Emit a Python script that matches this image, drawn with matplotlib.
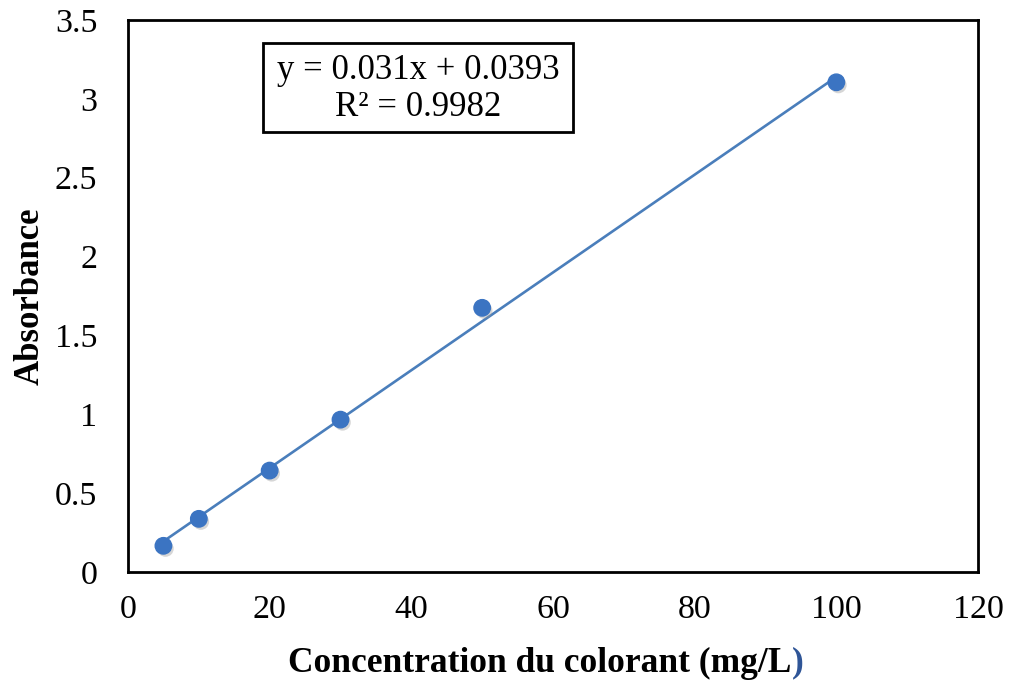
import matplotlib
matplotlib.use("Agg")
import matplotlib.pyplot as plt
import matplotlib.patheffects as pe
from matplotlib.patches import Rectangle
import numpy as np

# Data
concentration = [5, 10, 20, 30, 50, 100]
absorbance = [0.166, 0.337, 0.643, 0.966, 1.675, 3.105]
slope = 0.031
intercept = 0.0393
equation_text = "y = 0.031x + 0.0393"
r2_text = "R² = 0.9982"
x_ticks = [0, 20, 40, 60, 80, 100, 120]
y_ticks = [0, 0.5, 1, 1.5, 2, 2.5, 3, 3.5]
y_tick_labels = ["0", "0.5", "1", "1.5", "2", "2.5", "3", "3.5"]
x_label = "Concentration du colorant (mg/L"
x_label_end = ")"
y_label = "Absorbance"

plt.rcParams['font.family'] = ['Liberation Serif', 'DejaVu Serif']

W, H = 1009, 686
fig = plt.figure(figsize=(W / 100, H / 100), dpi=100)
ax = fig.add_axes([128 / W, 1 - 572 / H, 850 / W, 552 / H])

# trendline
xl = np.array([min(concentration), max(concentration)])
ax.plot(xl, slope * xl + intercept, color='#4A7EBB', lw=1.9, zorder=2)

ax.scatter(concentration, absorbance, s=140, color='#3B74C2', zorder=3,
           path_effects=[pe.SimplePatchShadow(offset=(1.5, -2), shadow_rgbFace='#999999', alpha=0.4),
                         pe.Normal()])

ax.set_xlim(0, 120)
ax.set_ylim(0, 3.5)
ax.set_xticks(x_ticks)
ax.set_xticklabels([str(t) for t in x_ticks])
ax.set_yticks(y_ticks)
ax.set_yticklabels(y_tick_labels)
ax.tick_params(axis='both', length=0, labelsize=24.5)
ax.tick_params(axis='y', pad=22)
ax.tick_params(axis='x', pad=16)
for s in ax.spines.values():
    s.set_linewidth(2)
    s.set_color('black')

ax.set_ylabel(y_label, fontsize=25, fontweight='bold', labelpad=6)

# equation box
ax.add_patch(Rectangle((0.1588, 0.797), 0.5235 - 0.1588, 0.958 - 0.797,
                       transform=ax.transAxes, fill=False, ec='black', lw=2, zorder=4))
ax.text(0.341, 0.909, equation_text, transform=ax.transAxes, ha='center', va='center', fontsize=25)
ax.text(0.341, 0.841, r2_text, transform=ax.transAxes, ha='center', va='center', fontsize=25)

# x label with blue closing parenthesis
t = fig.text(540 / W, 1 - 663 / H, x_label, ha='center', va='center', fontsize=25.5, fontweight='bold')
fig.canvas.draw()
bb = t.get_window_extent()
fig.text(bb.x1 / W, 1 - 663 / H, x_label_end, ha='left', va='center', fontsize=25.5,
         fontweight='bold', color='#2F5597')

fig.savefig("out.png", dpi=100)
